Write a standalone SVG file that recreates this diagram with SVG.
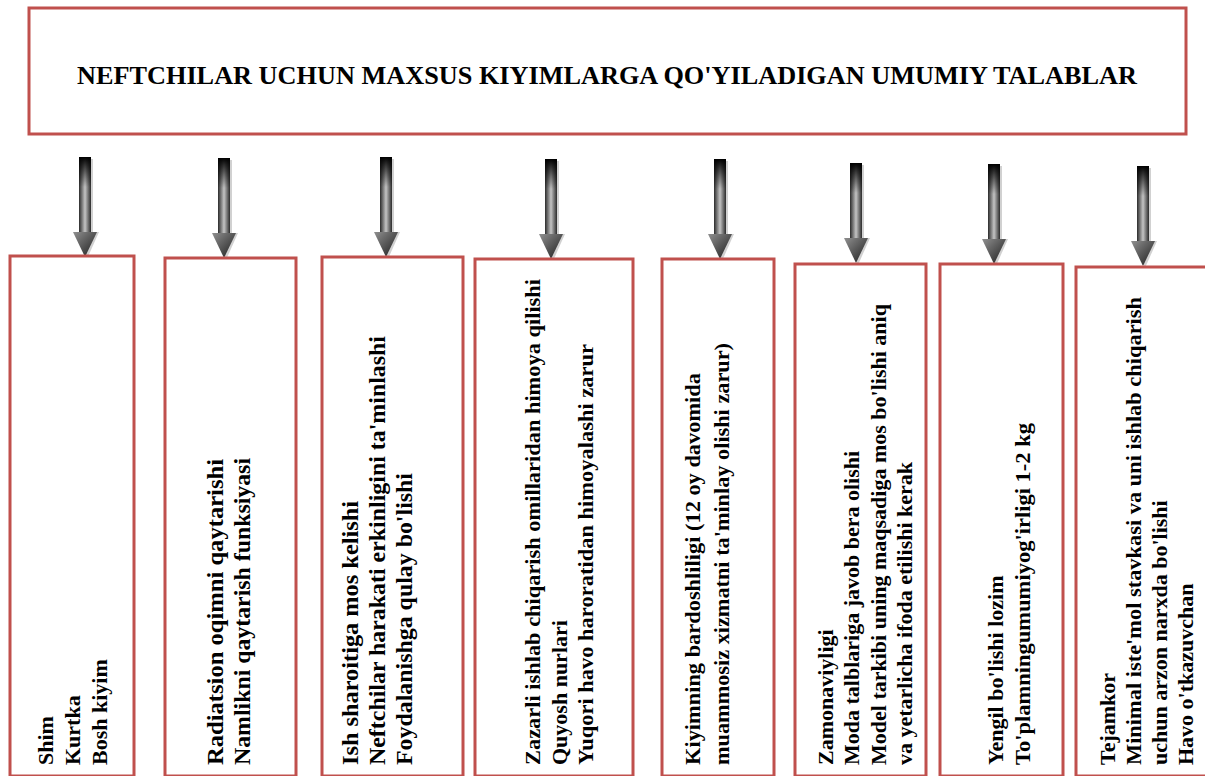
<svg xmlns="http://www.w3.org/2000/svg" width="1205" height="776" viewBox="0 0 1205 776">
<style>
.box{fill:#ffffff;stroke:#c0504d;stroke-width:3}
.t{font-family:"Liberation Serif","Times New Roman",serif;font-weight:bold;font-size:22px;fill:#000}
.t2{font-size:23px}
.title{font-family:"Liberation Serif","Times New Roman",serif;font-weight:bold;font-size:25px;fill:#000}
.shaft{fill:url(#gShaft)}
.head{fill:url(#gHead)}
.topfade{fill:url(#gTop)}
.shadow{fill:#000;opacity:0.18}
</style>
<defs>
<linearGradient id="gShaft" x1="0" y1="0" x2="1" y2="0">
<stop offset="0" stop-color="#2b2b2b"/>
<stop offset="0.5" stop-color="#c4c4c4"/>
<stop offset="1" stop-color="#2b2b2b"/>
</linearGradient>
<linearGradient id="gTop" x1="0" y1="0" x2="0" y2="1">
<stop offset="0" stop-color="#000" stop-opacity="1"/>
<stop offset="1" stop-color="#000" stop-opacity="0"/>
</linearGradient>
<linearGradient id="gHead" x1="0" y1="0" x2="1" y2="1">
<stop offset="0" stop-color="#909090"/>
<stop offset="1" stop-color="#1a1a1a"/>
</linearGradient>
<g id="arrow">
<rect class="shadow" x="-4" y="2" width="12" height="75"/>
<path class="shadow" d="M-10,75 L14,75 L2,102 Z"/>
<rect class="shaft" x="-6" y="0" width="12" height="76"/>
<rect class="topfade" x="-6" y="0" width="12" height="30"/>
<path class="head" d="M-12,75 L12,75 L0,100 Z"/>
</g>
</defs>

<g id="title-node">
<rect class="box" x="29" y="8" width="1157" height="126"/>
<text class="title" x="77" y="84" textLength="1060" lengthAdjust="spacingAndGlyphs">NEFTCHILAR UCHUN MAXSUS KIYIMLARGA QO'YILADIGAN UMUMIY TALABLAR</text>
</g>

<g id="connectors">
<use href="#arrow" transform="translate(85,157)"/>
<use href="#arrow" transform="translate(224,158)"/>
<use href="#arrow" transform="translate(386,157)"/>
<use href="#arrow" transform="translate(551,159)"/>
<use href="#arrow" transform="translate(720,159)"/>
<use href="#arrow" transform="translate(856,163)"/>
<use href="#arrow" transform="translate(994,164)"/>
<use href="#arrow" transform="translate(1143,166)"/>
</g>

<g id="node1">
<rect class="box" x="10" y="256" width="124" height="520"/>
<text class="t" transform="translate(53,765) rotate(-90)">Shim</text>
<text class="t" transform="translate(80,765) rotate(-90)">Kurtka</text>
<text class="t" transform="translate(107,765) rotate(-90)">Bosh kiyim</text>
</g>

<g id="node2">
<rect class="box" x="165" y="258" width="131" height="518"/>
<text class="t t2" transform="translate(223,765) rotate(-90)" textLength="306" lengthAdjust="spacingAndGlyphs">Radiatsion oqimni qaytarishi</text>
<text class="t t2" transform="translate(250,765) rotate(-90)" textLength="307" lengthAdjust="spacingAndGlyphs">Namlikni qaytarish funksiyasi</text>
</g>

<g id="node3">
<rect class="box" x="322" y="257" width="141" height="519"/>
<text class="t t2" transform="translate(358,765) rotate(-90)" textLength="264" lengthAdjust="spacingAndGlyphs">Ish sharoitiga mos kelishi</text>
<text class="t t2" transform="translate(385,765) rotate(-90)" textLength="429" lengthAdjust="spacingAndGlyphs">Neftchilar harakati erkinligini ta'minlashi</text>
<text class="t t2" transform="translate(412,765) rotate(-90)" textLength="292" lengthAdjust="spacingAndGlyphs">Foydalanishga qulay bo'lishi</text>
</g>

<g id="node4">
<rect class="box" x="475" y="259" width="158" height="517"/>
<text class="t" transform="translate(540,765) rotate(-90)" textLength="486" lengthAdjust="spacingAndGlyphs">Zazarli ishlab chiqarish omillaridan himoya qilishi</text>
<text class="t" transform="translate(567,765) rotate(-90)">Quyosh nurlari</text>
<text class="t" transform="translate(593,765) rotate(-90)" textLength="421" lengthAdjust="spacingAndGlyphs">Yuqori havo haroratidan himoyalashi zarur</text>
</g>

<g id="node5">
<rect class="box" x="662" y="259" width="112" height="517"/>
<text class="t" transform="translate(700,765) rotate(-90)" textLength="392" lengthAdjust="spacingAndGlyphs">Kiyimning bardoshliligi (12 oy davomida</text>
<text class="t" transform="translate(729,765) rotate(-90)" textLength="422" lengthAdjust="spacingAndGlyphs">muammosiz xizmatni ta'minlay olishi zarur)</text>
</g>

<g id="node6">
<rect class="box" x="795" y="264" width="131" height="512"/>
<text class="t" transform="translate(833,765) rotate(-90)">Zamonaviyligi</text>
<text class="t" transform="translate(859,765) rotate(-90)">Moda talblariga javob bera olishi</text>
<text class="t" transform="translate(886,765) rotate(-90)">Model tarkibi uning maqsadiga mos bo'lishi aniq</text>
<text class="t" transform="translate(912,765) rotate(-90)">va yetarlicha ifoda etilishi kerak</text>
</g>

<g id="node7">
<rect class="box" x="940" y="264" width="123" height="512"/>
<text class="t" transform="translate(1003,765) rotate(-90)">Yengil bo'lishi lozim</text>
<text class="t" transform="translate(1030,765) rotate(-90)" textLength="342" lengthAdjust="spacingAndGlyphs">To'plamningumumiyog'irligi 1-2 kg</text>
</g>

<g id="node8">
<rect class="box" x="1076" y="267" width="140" height="509"/>
<text class="t" transform="translate(1115,765) rotate(-90)">Tejamkor</text>
<text class="t" transform="translate(1141,765) rotate(-90)" textLength="468" lengthAdjust="spacingAndGlyphs">Minimal iste'mol stavkasi va uni ishlab chiqarish</text>
<text class="t" transform="translate(1167,765) rotate(-90)">uchun arzon narxda bo'lishi</text>
<text class="t" transform="translate(1193,765) rotate(-90)">Havo o'tkazuvchan</text>
</g>
</svg>
